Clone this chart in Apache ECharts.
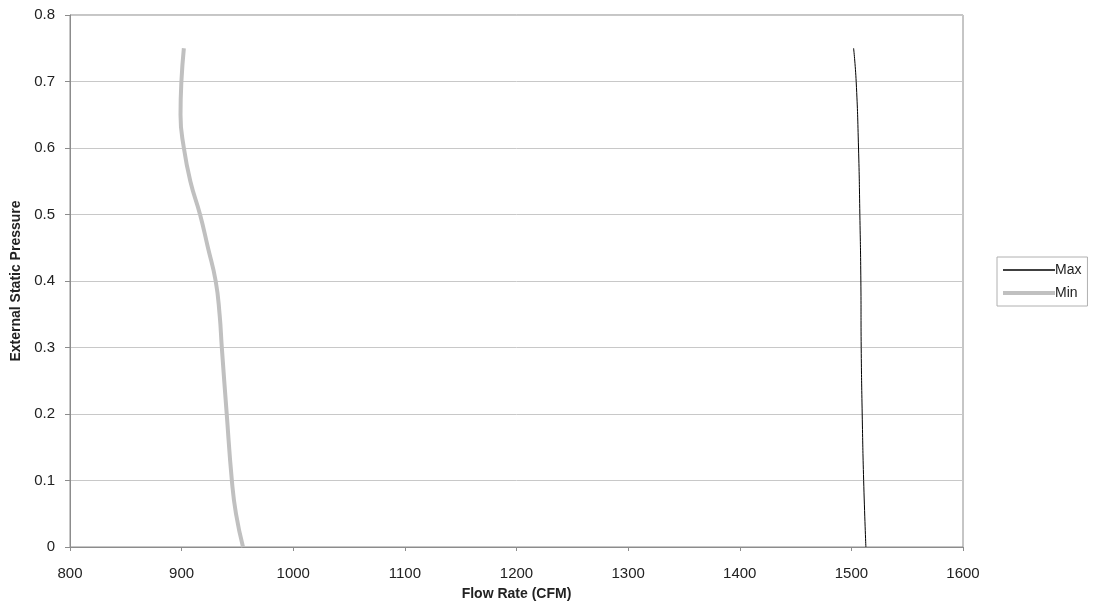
<!DOCTYPE html>
<html>
<head>
<meta charset="utf-8">
<script src="https://cdn.jsdelivr.net/npm/echarts@6/dist/echarts.min.js"></script>
<style>html,body{margin:0;padding:0;background:#fff}#c{width:1093px;height:611px}</style>
</head>
<body>
<div id="c"></div>
<script>
var maxFlow = [1513, 1511, 1509.7, 1508.8, 1508.5, 1507.6, 1506.4, 1504.3, 1502];
var maxPressure = [0, 0.1, 0.2, 0.3, 0.4, 0.5, 0.6, 0.7, 0.75];
var minFlow = [955, 948.7, 945, 940.4, 936, 934, 930.5, 923.6, 916.5, 907.8, 902, 899, 899.8, 902];
var minPressure = [0, 0.05, 0.1, 0.2, 0.3, 0.35, 0.4, 0.45, 0.5, 0.55, 0.6, 0.65, 0.7, 0.75];
var xTicks = [800, 900, 1000, 1100, 1200, 1300, 1400, 1500, 1600];
var yTicks = [0, 0.1, 0.2, 0.3, 0.4, 0.5, 0.6, 0.7, 0.8];

function pairs(xs, ys){ return xs.map(function(x,i){return [x, ys[i]];}); }

var chart = echarts.init(document.getElementById('c'), null, {renderer:'canvas'});
var font = 'Liberation Sans, Arial, Helvetica, sans-serif';
chart.setOption({
  animation:false,
  backgroundColor:'#fff',
  textStyle:{fontFamily:font},
  grid:{left:70, right:130, top:15, bottom:64, show:true, borderColor:'#8c8c8c', borderWidth:1, containLabel:false, outerBoundsMode:'none'},
  xAxis:{
    type:'value', min:xTicks[0], max:xTicks[xTicks.length-1], interval:100,
    name:'Flow Rate (CFM)', nameLocation:'middle', nameGap:40,
    nameTextStyle:{fontWeight:'bold', fontSize:14, color:'#222', fontFamily:font},
    axisLine:{show:true, lineStyle:{color:'#8c8c8c'}},
    axisTick:{show:true, length:4, lineStyle:{color:'#8c8c8c'}},
    axisLabel:{fontSize:15, color:'#222', margin:19, formatter:function(v){return String(v);}},
    splitLine:{show:false}
  },
  yAxis:{
    type:'value', min:yTicks[0], max:yTicks[yTicks.length-1], interval:0.1,
    name:'External Static Pressure', nameLocation:'middle', nameGap:45, nameRotate:90,
    nameTextStyle:{fontWeight:'bold', fontSize:14, color:'#222', fontFamily:font},
    axisLine:{show:true, lineStyle:{color:'#8c8c8c'}},
    axisTick:{show:true, length:5, lineStyle:{color:'#8c8c8c'}},
    axisLabel:{fontSize:15, color:'#222', margin:15, formatter:function(v){return v===0?'0':v.toFixed(1);}},
    splitLine:{show:true, lineStyle:{color:'#c8c8c8', width:1}}
  },
  legend:{
    orient:'vertical', left:997, top:257,
    data:[{name:'Max', lineStyle:{width:1.5}}, {name:'Min', lineStyle:{width:4}}],
    borderColor:'#b0b0b0', borderWidth:1, borderRadius:0,
    padding:[6,6,6,4], itemGap:9, itemWidth:52, itemHeight:10,
    itemStyle:{opacity:0},
    textStyle:{fontSize:14, color:'#222', padding:[0,0,0,-5]}
  },
  series:[
    {name:'Max', type:'line', smooth:true, symbol:'none', data:pairs(maxFlow, maxPressure),
     lineStyle:{color:'#000', width:1}, itemStyle:{color:'#000'}},
    {name:'Min', type:'line', smooth:true, symbol:'none', data:pairs(minFlow, minPressure),
     lineStyle:{color:'#c0c0c0', width:4}, itemStyle:{color:'#c0c0c0'}}
  ]
});
</script>
</body>
</html>
